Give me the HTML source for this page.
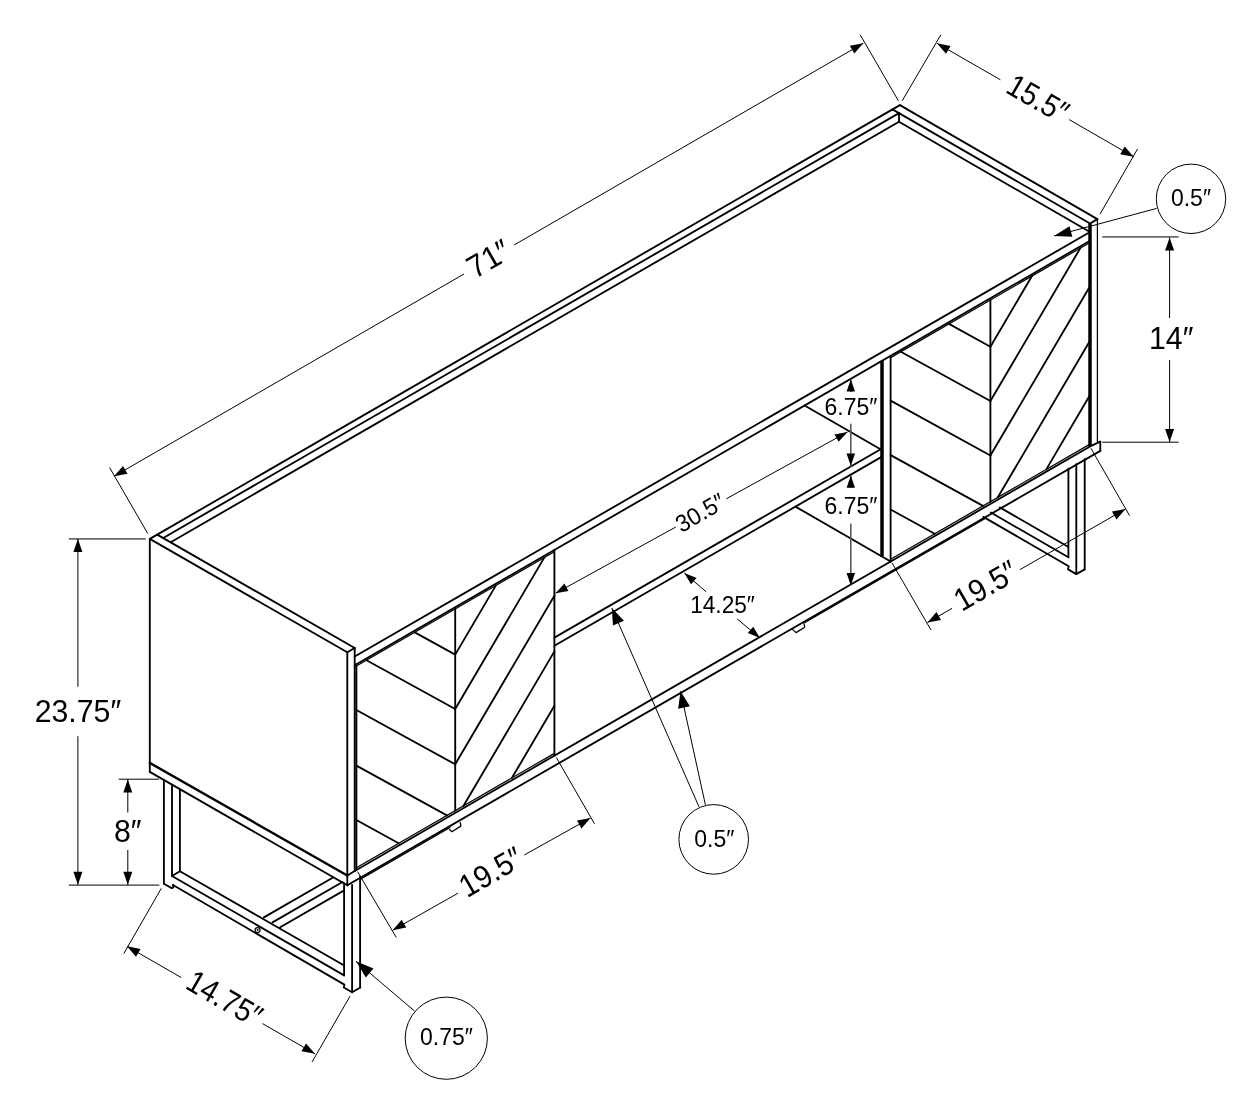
<!DOCTYPE html>
<html><head><meta charset="utf-8"><title>Dimensions</title>
<style>
html,body{margin:0;padding:0;background:#fff}
svg{display:block;will-change:transform}
text{-webkit-font-smoothing:antialiased}
.m{fill:none;stroke:#000;stroke-width:1.85;stroke-linecap:round;stroke-linejoin:round}
.k{fill:none;stroke:#000;stroke-width:3.5;stroke-linecap:butt}
.b{fill:none;stroke:#000;stroke-width:2.4;stroke-linecap:round}
.n{fill:none;stroke:#000;stroke-width:1.25;stroke-linecap:round;stroke-linejoin:round}
.t{fill:none;stroke:#000;stroke-width:1.0}
.g{fill:none;stroke:#6a6a6a;stroke-width:1.6}
.g2{fill:none;stroke:#5a5a5a;stroke-width:1.6}
.a{fill:#000;stroke:none}
text{font-family:"Liberation Sans",sans-serif;fill:#000;text-anchor:middle}
</style></head>
<body>
<svg width="1260" height="1116" viewBox="0 0 1260 1116">
<rect width="1260" height="1116" fill="#fff"/>
<path class="m" d="M149.80 538.90L347.30 652.23"/>
<path class="m" d="M157.20 534.63L354.70 647.95"/>
<path class="m" d="M149.80 538.90L157.20 534.63"/>
<path class="m" d="M347.30 652.23L354.70 647.95"/>
<path class="m" d="M157.20 534.63L892.50 109.40"/>
<path class="m" d="M163.70 537.68L899.00 113.15"/>
<path class="m" d="M171.15 541.98L899.00 121.75"/>
<path class="m" d="M899.90 105.13L1097.40 219.16"/>
<path class="m" d="M892.50 109.40L1090.00 223.43"/>
<path class="m" d="M899.90 105.13L892.50 109.40"/>
<path class="m" d="M1097.40 219.16L1090.00 223.43"/>
<path class="m" d="M899.00 113.15L899.00 121.75"/>
<path class="m" d="M899.00 121.75L1090.00 232.03"/>
<path class="m" d="M354.70 656.55L1090.00 232.03"/>
<path class="m" d="M354.70 665.25L1090.00 240.73"/>
<path class="m" d="M149.80 538.90L149.80 771.90"/>
<path class="b" d="M149.80 762.90L347.30 875.43"/>
<path class="m" d="M149.80 771.90L347.30 885.23"/>
<path class="m" d="M347.30 652.23L347.30 885.23"/>
<path class="m" d="M354.70 647.95L354.70 870.95"/>
<path class="m" d="M356.40 664.27L356.40 869.97"/>
<path class="m" d="M347.30 875.43L354.70 870.95"/>
<path class="m" d="M354.70 870.95L1090.00 446.43L1100.30 441.70"/>
<path class="m" d="M347.30 885.23L1100.30 450.90"/>
<path class="m" d="M1100.30 441.70L1100.30 450.90"/>
<path class="n" d="M360.50 879.11L450.00 827.43"/>
<path class="n" d="M805.00 622.47L986.50 517.78"/>
<path class="n" d="M449.40 829.60L451.90 831.70L460.80 826.10L460.30 822.60"/>
<path class="n" d="M791.90 628.90L796.10 632.60L804.70 627.20L803.90 622.60"/>
<path class="k" d="M1090.00 223.43L1090.00 446.43"/>
<path class="n" d="M1097.40 219.16L1097.40 441.50"/>
<path class="m" d="M455.20 609.03L455.20 810.63"/>
<path class="m" d="M455.20 654.60L495.79 585.60"/>
<path class="m" d="M455.20 654.60L414.78 632.37"/>
<path class="m" d="M455.20 709.00L544.25 557.62"/>
<path class="m" d="M455.20 709.00L366.52 660.23"/>
<path class="m" d="M455.20 764.30L554.40 595.66"/>
<path class="m" d="M455.20 764.30L356.40 709.96"/>
<path class="m" d="M463.55 805.81L554.40 651.36"/>
<path class="m" d="M446.89 815.43L356.40 765.66"/>
<path class="m" d="M512.00 777.84L554.40 705.76"/>
<path class="m" d="M398.63 843.29L356.40 820.06"/>
<path class="m" d="M554.40 549.96L554.40 755.66"/>
<path class="n" d="M356.40 666.07L554.40 551.76"/>
<path class="n" d="M356.40 867.67L554.40 753.36"/>
<path class="m" d="M990.40 300.03L990.40 501.63"/>
<path class="m" d="M990.40 346.70L1031.97 276.03"/>
<path class="m" d="M990.40 346.70L949.00 323.93"/>
<path class="m" d="M990.40 401.00L1080.34 248.11"/>
<path class="m" d="M990.40 401.00L900.84 351.74"/>
<path class="m" d="M990.40 455.50L1090.00 286.18"/>
<path class="m" d="M990.40 455.50L890.60 400.61"/>
<path class="m" d="M997.85 497.33L1090.00 340.68"/>
<path class="m" d="M982.98 505.92L890.60 455.11"/>
<path class="m" d="M1046.31 469.35L1090.00 395.08"/>
<path class="m" d="M934.72 533.78L890.60 509.51"/>
<path class="m" d="M890.60 355.85L890.60 561.55"/>
<path class="k" d="M882.00 360.82L882.00 556.59"/>
<path class="n" d="M890.60 357.65L1090.00 242.53"/>
<path class="n" d="M890.60 559.25L1090.00 444.13"/>
<path class="m" d="M554.40 637.59L882.00 448.45"/>
<path class="m" d="M554.40 645.79L882.00 456.65"/>
<path class="m" d="M880.50 449.31L804.61 405.50"/>
<path class="m" d="M890.60 561.55L795.45 506.62"/>
<path class="m" d="M163.90 780.04L163.90 883.70"/>
<path class="m" d="M172.00 784.72L172.00 876.00"/>
<path class="m" d="M179.90 789.28L179.90 871.30"/>
<path class="m" d="M172.00 876.00L179.90 871.30"/>
<path class="m" d="M163.90 883.70L171.70 888.10L173.40 887.30L173.00 885.00"/>
<path class="m" d="M179.90 871.30L343.80 965.20"/>
<path class="m" d="M172.00 876.00L344.10 975.40"/>
<path class="m" d="M173.00 885.00L344.40 984.60L343.80 987.50L352.10 992.20L360.30 987.50"/>
<path class="m" d="M344.10 883.23L344.10 975.40"/>
<path class="m" d="M352.10 885.00L352.10 992.20"/>
<path class="m" d="M360.10 876.74L360.10 987.50"/>
<path class="m" d="M263.90 917.40L333.50 877.20"/>
<path class="m" d="M272.50 922.40L342.50 882.00"/>
<path class="m" d="M280.20 927.20L344.10 890.40"/>
<circle class="n" cx="257.6" cy="930.1" r="2.5"/>
<circle cx="257.6" cy="930.1" r="1.0" fill="#000"/>
<path class="m" d="M1068.40 468.70L1068.40 557.30"/>
<path class="m" d="M1076.30 464.14L1076.30 574.10"/>
<path class="m" d="M1084.70 459.29L1084.70 569.40"/>
<path class="m" d="M1068.10 546.80L999.83 507.39"/>
<path class="m" d="M1068.40 557.30L990.89 512.55"/>
<path class="m" d="M983.33 516.91L1068.70 566.20L1068.10 569.40L1076.30 574.10L1084.70 569.40"/>
<path class="t" d="M147.80 533.60L109.60 467.60"/>
<path class="t" d="M898.40 100.80L860.20 34.80"/>
<path class="t" d="M114.00 476.30L464.00 274.00"/>
<path class="t" d="M514.30 244.90L863.30 43.20"/>
<path class="a" d="M114.00 476.30L123.01 465.90L127.51 473.70Z"/>
<path class="a" d="M863.30 43.20L854.29 53.60L849.79 45.80Z"/>
<text x="488.20" y="269.65" font-size="31.7" textLength="44.39" lengthAdjust="spacingAndGlyphs" transform="rotate(-30 488.20 258.30)">71″</text>
<path class="t" d="M902.20 100.80L940.90 34.70"/>
<path class="t" d="M1100.00 214.20L1137.60 148.80"/>
<path class="t" d="M937.00 43.30L1000.40 79.80"/>
<path class="t" d="M1069.20 119.60L1133.70 156.80"/>
<path class="a" d="M937.00 43.30L950.51 45.90L946.01 53.70Z"/>
<path class="a" d="M1133.70 156.80L1120.19 154.20L1124.69 146.40Z"/>
<text x="1038.10" y="109.45" font-size="31.7" textLength="65.11" lengthAdjust="spacingAndGlyphs" transform="rotate(30 1038.10 98.10)">15.5″</text>
<path class="g" d="M1102.3 236.9H1178.5"/>
<path class="t" d="M1102.2 442.2H1178.5"/>
<path class="t" d="M1169.60 237.50L1169.60 318.00"/>
<path class="t" d="M1169.60 360.00L1169.60 442.00"/>
<path class="a" d="M1169.60 237.50L1174.10 250.50L1165.10 250.50Z"/>
<path class="a" d="M1169.60 442.00L1165.10 429.00L1174.10 429.00Z"/>
<text x="1171.20" y="349.35" font-size="31.7" textLength="44.39" lengthAdjust="spacingAndGlyphs">14″</text>
<path class="g" d="M68.9 538.9H145.8"/>
<path class="t" d="M68.9 885.1H159.3"/>
<path class="t" d="M77.90 538.90L77.90 686.80"/>
<path class="t" d="M77.90 736.20L77.90 884.80"/>
<path class="a" d="M77.90 538.90L82.40 551.90L73.40 551.90Z"/>
<path class="a" d="M77.90 884.80L73.40 871.80L82.40 871.80Z"/>
<text x="77.90" y="721.85" font-size="31.7" textLength="86.47" lengthAdjust="spacingAndGlyphs">23.75″</text>
<path class="t" d="M118.7 779.2H159.0"/>
<path class="t" d="M127.80 779.60L127.80 812.50"/>
<path class="t" d="M127.80 850.00L127.80 884.80"/>
<path class="a" d="M127.80 779.60L132.30 792.60L123.30 792.60Z"/>
<path class="a" d="M127.80 884.80L123.30 871.80L132.30 871.80Z"/>
<text x="127.80" y="841.95" font-size="31.7" textLength="27.55" lengthAdjust="spacingAndGlyphs">8″</text>
<path class="t" d="M161.30 888.40L123.80 953.60"/>
<path class="t" d="M350.00 996.20L312.00 1062.00"/>
<path class="t" d="M127.00 946.30L181.30 977.60"/>
<path class="t" d="M262.50 1023.60L315.00 1053.80"/>
<path class="a" d="M127.00 946.30L140.51 948.90L136.01 956.70Z"/>
<path class="a" d="M315.00 1053.80L301.49 1051.20L305.99 1043.40Z"/>
<text x="224.80" y="1009.55" font-size="31.7" textLength="81.29" lengthAdjust="spacingAndGlyphs" transform="rotate(30 224.80 998.20)">14.75″</text>
<path class="t" d="M357.60 871.70L396.30 937.50"/>
<path class="t" d="M556.30 757.50L594.50 823.80"/>
<path class="t" d="M392.70 930.20L458.00 893.20"/>
<path class="t" d="M524.30 855.00L590.50 818.00"/>
<path class="a" d="M392.70 930.20L401.71 919.80L406.21 927.60Z"/>
<path class="a" d="M590.50 818.00L581.49 828.40L576.99 820.60Z"/>
<text x="490.60" y="882.85" font-size="31.7" textLength="67.55" lengthAdjust="spacingAndGlyphs" transform="rotate(-30 490.60 871.50)">19.5″</text>
<path class="t" d="M892.00 562.90L931.00 630.00"/>
<path class="t" d="M1091.00 448.40L1129.50 515.50"/>
<path class="t" d="M927.50 622.50L952.00 608.40"/>
<path class="t" d="M1020.00 569.60L1125.50 509.00"/>
<path class="a" d="M927.50 622.50L936.51 612.10L941.01 619.90Z"/>
<path class="a" d="M1125.50 509.00L1116.49 519.40L1111.99 511.60Z"/>
<text x="985.40" y="596.55" font-size="31.7" textLength="67.55" lengthAdjust="spacingAndGlyphs" transform="rotate(-30 985.40 585.20)">19.5″</text>
<path class="g2" d="M850.80 379.50L850.80 392.00"/>
<path class="g2" d="M850.80 423.80L850.80 466.80"/>
<path class="a" d="M850.80 379.30L855.00 391.60L846.60 391.60Z"/>
<path class="a" d="M850.80 465.80L846.50 453.50L855.10 453.50Z"/>
<text x="851.00" y="414.66" font-size="24.2" textLength="52.88" lengthAdjust="spacingAndGlyphs">6.75″</text>
<path class="g2" d="M850.80 475.40L850.80 488.00"/>
<path class="g2" d="M850.80 523.80L850.80 585.20"/>
<path class="a" d="M850.80 475.40L855.00 487.70L846.60 487.70Z"/>
<path class="a" d="M850.80 585.40L846.60 573.10L855.00 573.10Z"/>
<text x="851.00" y="513.66" font-size="24.2" textLength="52.88" lengthAdjust="spacingAndGlyphs">6.75″</text>
<path class="t" d="M555.50 593.30L675.80 527.00"/>
<path class="t" d="M726.30 498.80L847.50 432.00"/>
<path class="a" d="M555.50 593.30L564.41 583.58L568.47 590.94Z"/>
<path class="a" d="M847.50 432.00L838.60 441.73L834.53 434.39Z"/>
<text x="700.00" y="521.16" font-size="24.2" textLength="52.88" lengthAdjust="spacingAndGlyphs" transform="rotate(-30 700.00 512.50)">30.5″</text>
<path class="t" d="M684.30 573.00L706.10 591.80"/>
<path class="t" d="M737.30 619.00L760.00 638.00"/>
<path class="a" d="M684.30 573.00L696.52 577.95L691.06 584.32Z"/>
<path class="a" d="M760.00 638.00L747.78 633.05L753.24 626.68Z"/>
<text x="722.50" y="612.66" font-size="24.2" textLength="64.68" lengthAdjust="spacingAndGlyphs">14.25″</text>
<circle class="t" cx="1191.0" cy="198.8" r="34.7"/>
<text x="1191.00" y="206.36" font-size="24.2" textLength="40.10" lengthAdjust="spacingAndGlyphs">0.5″</text>
<path class="t" d="M1156.60 208.40L1054.00 236.00"/>
<path class="a" d="M1054.00 236.00L1069.48 226.16L1072.33 236.78Z"/>
<circle class="t" cx="713.7" cy="839.4" r="34.8"/>
<text x="714.30" y="847.16" font-size="24.2" textLength="40.10" lengthAdjust="spacingAndGlyphs">0.5″</text>
<path class="t" d="M699.00 806.80L611.80 608.00"/>
<path class="a" d="M611.80 608.00L623.97 620.79L612.98 625.61Z"/>
<path class="t" d="M705.40 804.80L680.50 691.30"/>
<path class="a" d="M680.50 691.30L689.90 706.24L678.17 708.80Z"/>
<circle class="t" cx="446.3" cy="1038.2" r="41.1"/>
<text x="446.50" y="1045.26" font-size="24.2" textLength="52.88" lengthAdjust="spacingAndGlyphs">0.75″</text>
<path class="t" d="M414.50 1011.00L356.00 961.30"/>
<path class="a" d="M356.00 961.30L373.46 968.60L365.83 977.47Z"/>
</svg>
</body></html>
